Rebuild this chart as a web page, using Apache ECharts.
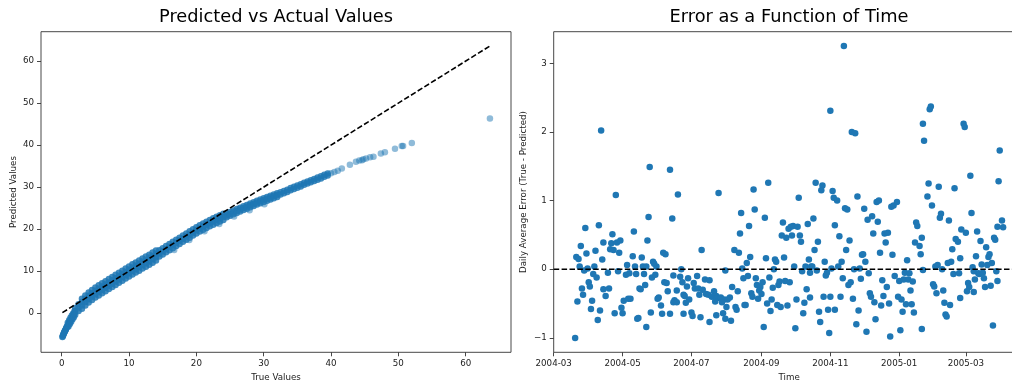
<!DOCTYPE html>
<html><head><meta charset="utf-8">
<script src="https://cdn.jsdelivr.net/npm/echarts@6/dist/echarts.min.js"></script>
<style>html,body{margin:0;padding:0;background:#fff}#c{width:1012px;height:380px}</style>
</head><body><div id="c"></div>
<script>
// ---------- data ----------
const leftTitle = 'Predicted vs Actual Values';
const rightTitle = 'Error as a Function of Time';
const leftXTicks = [0, 10, 20, 30, 40, 50, 60];
const leftYTicks = [0, 10, 20, 30, 40, 50, 60];
const rightYTicks = [-1, 0, 1, 2, 3];
const rightXTickLabels = ['2004-03', '2004-05', '2004-07', '2004-09', '2004-11', '2005-01', '2005-03'];
const startDate = '2004-03-01';

// [true value, predicted value] — the dense band of overlapping points
const predVsActualDense = [
[0.10,-5.7],[0.15,-5.5],[0.20,-5.3],[0.25,-5.1],[0.30,-4.9],[0.35,-4.7],[0.40,-4.5],[0.45,-4.35],[0.50,-4.2],[0.55,-4.05],[0.60,-3.9],[0.65,-3.7],[0.70,-3.5],[0.75,-3.35],[0.80,-3.2],[0.90,-2.9],[1.00,-2.6],[1.10,-2.3],[1.20,-2.0],[1.30,-1.7],[1.40,-1.5],[1.50,-1.2],[1.60,-0.9],[1.70,-0.6],[1.80,-0.3],[1.90,0.0],
[0.9,-2.3],[1.1,-1.7],[1.3,-1.1],[1.5,-0.6],[1.7,-0.1],[1.9,0.5],[1.0,-3.2],[1.2,-2.6],[1.4,-2.1],[1.6,-1.5],[1.8,-1.0],
[2.0,1.2],[2.0,0.4],[2.0,-0.4],[2.5,2.1],[2.5,1.3],[2.5,0.5],
[3.0,3.4],[3.0,2.6],[3.0,1.8],[3.0,1.0],[3.5,4.2],[3.5,3.4],[3.5,2.6],[3.5,1.8],[4.0,4.9],[4.0,4.1],[4.0,3.3],[4.0,2.5],
[4.5,5.5],[4.5,4.7],[4.5,3.9],[4.5,3.1],[5.0,6.1],[5.0,5.3],[5.0,4.5],[5.0,3.7],[5.5,6.6],[5.5,5.8],[5.5,5.0],[5.5,4.2],
[6.0,7.1],[6.0,6.3],[6.0,5.5],[6.0,4.7],[6.5,7.6],[6.5,6.8],[6.5,6.0],[6.5,5.2],[7.0,8.1],[7.0,7.3],[7.0,6.5],[7.0,5.7],
[7.5,8.6],[7.5,7.8],[7.5,7.0],[7.5,6.2],[8.0,9.1],[8.0,8.3],[8.0,7.5],[8.0,6.7],[8.5,9.6],[8.5,8.8],[8.5,8.0],[8.5,7.2],
[9.0,10.1],[9.0,9.3],[9.0,8.5],[9.0,7.7],[9.5,10.6],[9.5,9.8],[9.5,9.0],[9.5,8.2],[10.0,11.1],[10.0,10.3],[10.0,9.5],[10.0,8.7],
[10.5,11.6],[10.5,10.8],[10.5,10.0],[10.5,9.2],[11.0,12.05],[11.0,11.25],[11.0,10.45],[11.0,9.65],[11.5,12.5],[11.5,11.7],[11.5,10.9],[11.5,10.1],
[12.0,13.0],[12.0,12.2],[12.0,11.4],[12.0,10.6],[12.5,13.45],[12.5,12.65],[12.5,11.85],[12.5,11.05],[13.0,13.9],[13.0,13.1],[13.0,12.3],[13.0,11.5],
[13.5,14.4],[13.5,13.6],[13.5,12.8],[13.5,12.0],[14.0,14.9],[14.0,14.1],[14.0,13.3],[14.0,12.5],
[14.5,14.95],[14.5,14.2],[14.5,13.45],[15.0,15.45],[15.0,14.7],[15.0,13.95],[15.5,15.95],[15.5,15.2],[15.5,14.45],[16.0,16.45],[16.0,15.7],[16.0,14.95],
[16.5,16.95],[16.5,16.2],[16.5,15.45],[17.0,17.45],[17.0,16.7],[17.0,15.95],[17.5,17.95],[17.5,17.2],[17.5,16.45],[18.0,18.45],[18.0,17.7],[18.0,16.95],
[18.5,18.95],[18.5,18.2],[18.5,17.45],[19.0,19.45],[19.0,18.7],[19.0,17.95],[19.5,19.95],[19.5,19.2],[19.5,18.45],[20.0,20.45],[20.0,19.7],[20.0,18.95],
[20.5,20.9],[20.5,20.15],[20.5,19.4],[21.0,21.35],[21.0,20.6],[21.0,19.85],[21.5,21.75],[21.5,21.0],[21.5,20.25],[22.0,22.15],[22.0,21.4],[22.0,20.65],
[22.5,22.55],[22.5,21.8],[22.5,21.05],[23.0,22.95],[23.0,22.2],[23.0,21.45],[23.5,23.3],[23.5,22.55],[23.5,21.8],[24.0,23.65],[24.0,22.9],[24.0,22.15],
[24.5,23.7],[24.5,23.25],[24.5,22.8],[25.0,24.05],[25.0,23.6],[25.0,23.15],[25.5,24.4],[25.5,23.95],[25.5,23.5],[26.0,24.75],[26.0,24.3],[26.0,23.85],
[26.5,25.1],[26.5,24.65],[26.5,24.2],[27.0,25.45],[27.0,25.0],[27.0,24.55],[27.5,25.75],[27.5,25.3],[27.5,24.85],[28.0,26.1],[28.0,25.65],[28.0,25.2],
[28.5,26.4],[28.5,25.95],[28.5,25.5],[29.0,26.75],[29.0,26.3],[29.0,25.85],[29.5,27.05],[29.5,26.6],[29.5,26.15],[30.0,27.35],[30.0,26.9],[30.0,26.45],
[30.5,27.65],[30.5,27.2],[30.5,26.75],[31.0,27.95],[31.0,27.5],[31.0,27.05],[31.5,28.25],[31.5,27.8],[31.5,27.35],[32.0,28.55],[32.0,28.1],[32.0,27.65],
[32.5,28.75],[32.5,28.25],[33.0,29.05],[33.0,28.55],[33.5,29.35],[33.5,28.85],[34.0,29.75],[34.0,29.25],[34.5,30.05],[34.5,29.55],[35.0,30.35],[35.0,29.85],
[35.5,30.65],[35.5,30.15],[36.0,31.05],[36.0,30.55],[36.5,31.35],[36.5,30.85],[37.0,31.65],[37.0,31.15],[37.5,31.95],[37.5,31.45],[38.0,32.25],[38.0,31.75],
[38.5,32.55],[38.5,32.05],[39.0,32.95],[39.0,32.45],[39.5,33.25],[39.5,32.75]
];
// [true value, predicted value] — isolated points (upper tail and points just below the band)
const predVsActualSparse = [
[40.0,33.3],[40.5,33.6],[41.0,33.9],[41.6,34.4],[42.8,35.3],[43.7,36.0],[44.2,36.3],[44.6,36.4],[44.8,36.6],[45.2,36.8],[45.8,37.1],[46.3,37.2],
[47.4,38.0],[48.0,38.3],[49.5,39.1],[50.5,39.8],[50.7,39.8],[52.0,40.5],[63.6,46.3],
[16.7,15.0],[18.95,17.4],[21.2,19.5],[23.4,21.2],[25.6,23.0],[27.9,24.5],[30.1,25.9]
];

// [days since startDate, daily average error]
const dailyError = [
[42,2.02],[85,1.49],[55,1.08],[84,0.76],[28,0.60],[40,0.64],[52,0.51],[71,0.55],[44,0.39],[51,0.38],[56,0.39],[59,0.42],[24,0.34],[83,0.42],[37,0.27],[50,0.29],[53,0.28],[58,0.24],[29,0.23],[20,0.18],[22,0.15],[43,0.14],[70,0.19],[78,0.17],[88,0.11],[23,0.04],[27,-0.02],[30,0.01],[36,0.04],[65,0.06],[72,0.04],[79,0.04],[82,0.04],[48,-0.05],[57,-0.03],[64,-0.08],[67,-0.06],[73,-0.07],[80,-0.07],[35,-0.07],[38,-0.12],[87,-0.12],[31,-0.19],[32,-0.25],[25,-0.28],[44,-0.29],[49,-0.28],[46,-0.39],[26,-0.37],[76,-0.28],[77,-0.29],[81,-0.23],[21,-0.47],[34,-0.46],[62,-0.46],[66,-0.43],[68,-0.43],[33,-0.58],[41,-0.60],[60,-0.56],[54,-0.64],[61,-0.64],[86,-0.63],[39,-0.74],[74,-0.72],[75,-0.71],[82,-0.84],[19,-1.00],
[103,1.45],[110,1.09],[146,1.11],[105,0.74],[166,0.82],[165,0.52],[97,0.24],[99,0.22],[131,0.28],[160,0.28],[164,0.24],[91,0.04],[89,0.08],[113,0.00],[152,-0.02],[167,0.01],[90,-0.08],[106,-0.09],[112,-0.11],[119,-0.13],[127,-0.10],[134,-0.15],[138,-0.16],[98,-0.19],[100,-0.20],[114,-0.19],[124,-0.20],[168,-0.13],[118,-0.25],[125,-0.28],[128,-0.28],[132,-0.30],[158,-0.26],[109,-0.31],[101,-0.32],[135,-0.36],[142,-0.32],[115,-0.37],[116,-0.39],[129,-0.37],[137,-0.37],[140,-0.40],[144,-0.39],[145,-0.42],[148,-0.41],[151,-0.44],[154,-0.44],[156,-0.41],[163,-0.32],[93,-0.41],[92,-0.43],[120,-0.44],[107,-0.45],[106,-0.48],[109,-0.48],[117,-0.49],[143,-0.47],[149,-0.48],[95,-0.53],[153,-0.55],[161,-0.55],[162,-0.59],[169,-0.52],[96,-0.65],[103,-0.65],[115,-0.65],[122,-0.63],[123,-0.68],[130,-0.70],[144,-0.67],[150,-0.64],[152,-0.72],[157,-0.75],[138,-0.77],
[190,1.26],[177,1.16],[232,1.26],[238,1.22],[237,1.15],[247,1.14],[248,1.04],[217,1.04],[178,0.87],[187,0.75],[173,0.63],[203,0.68],[208,0.59],[210,0.62],[212,0.63],[216,0.62],[225,0.66],[230,0.74],[249,0.64],[202,0.49],[206,0.46],[211,0.49],[218,0.49],[219,0.40],[234,0.40],[231,0.28],[174,0.18],[188,0.16],[204,0.17],[196,0.14],[197,0.11],[226,0.14],[240,0.11],[171,0.09],[195,0.00],[213,0.04],[223,0.04],[228,0.04],[229,0.04],[220,-0.03],[227,-0.05],[233,-0.02],[242,-0.05],[241,-0.09],[246,0.01],[172,-0.10],[179,-0.13],[191,-0.12],[185,-0.19],[180,-0.23],[183,-0.26],[182,-0.31],[184,-0.36],[200,-0.18],[199,-0.23],[205,-0.17],[209,-0.19],[194,-0.27],[224,-0.29],[175,-0.35],[176,-0.40],[181,-0.43],[193,-0.44],[189,-0.50],[170,-0.52],[198,-0.52],[201,-0.55],[207,-0.53],[215,-0.44],[222,-0.49],[227,-0.41],[239,-0.40],[245,-0.40],[192,-0.61],[221,-0.64],[235,-0.62],[243,-0.59],[236,-0.77],[186,-0.84],[214,-0.86],[244,-0.93],
[245,2.31],[257,3.25],[264,2.00],[267,1.98],[327,2.12],[328,1.87],[251,1.00],[269,1.06],[258,0.89],[260,0.87],[275,0.88],[286,0.98],[288,1.00],[299,0.91],[301,0.93],[304,0.98],[278,0.72],[282,0.77],[287,0.69],[253,0.48],[262,0.42],[283,0.52],[293,0.52],[296,0.53],[294,0.39],[321,0.68],[322,0.63],[320,0.39],[324,0.34],[326,0.46],[259,0.28],[273,0.21],[274,0.22],[289,0.24],[300,0.21],[325,0.22],[255,0.11],[276,0.11],[313,0.13],[252,0.04],[266,0.00],[271,0.01],[279,-0.06],[311,-0.05],[315,-0.06],[327,-0.01],[256,-0.13],[272,-0.14],[302,-0.10],[291,-0.16],[306,-0.17],[310,-0.15],[314,-0.15],[318,-0.18],[263,-0.19],[261,-0.23],[295,-0.26],[316,-0.31],[280,-0.35],[281,-0.40],[292,-0.39],[254,-0.40],[265,-0.43],[305,-0.40],[308,-0.44],[312,-0.51],[317,-0.51],[284,-0.48],[290,-0.53],[297,-0.50],[249,-0.59],[270,-0.60],[309,-0.62],[319,-0.63],[285,-0.73],[268,-0.80],[277,-0.91],[298,-0.98],[307,-0.89],[326,-0.87],
[333,2.33],[334,2.37],[363,2.12],[364,2.07],[395,1.73],[369,1.36],[394,1.28],[332,1.25],[341,1.20],[355,1.18],[331,1.06],[335,0.93],[370,0.82],[343,0.81],[342,0.75],[350,0.71],[397,0.71],[393,0.62],[398,0.61],[361,0.58],[365,0.53],[375,0.55],[356,0.44],[358,0.40],[378,0.41],[390,0.46],[391,0.43],[383,0.32],[353,0.29],[360,0.16],[374,0.19],[385,0.18],[386,0.22],[338,0.04],[340,0.06],[349,0.09],[352,0.11],[379,0.07],[384,0.06],[388,0.09],[344,0.00],[371,0.03],[354,-0.07],[359,-0.06],[372,-0.03],[376,-0.06],[377,-0.07],[380,-0.05],[392,-0.03],[381,-0.13],[373,-0.15],[393,-0.17],[367,-0.20],[336,-0.22],[337,-0.25],[368,-0.26],[382,-0.26],[387,-0.24],[366,-0.32],[345,-0.31],[372,-0.33],[339,-0.35],[360,-0.42],[346,-0.49],[351,-0.52],[347,-0.66],[348,-0.69],[389,-0.82]
];

// ---------- helpers ----------
const DAY = 86400000;
function ymdToUTC(s) { const p = s.split('-').map(Number); return Date.UTC(p[0], p[1] - 1, p[2] || 1); }
const t0 = ymdToUTC(startDate);
const errorData = dailyError.map(d => [t0 + d[0] * DAY, d[1]]);
const xTickVals = rightXTickLabels.map(s => ymdToUTC(s));
const firstDay = Math.min(...dailyError.map(d => d[0]));
const lastDay = Math.max(...dailyError.map(d => d[0]));
const pad = (lastDay - firstDay) * 0.05;
const rxMin = Math.min(t0, t0 + (firstDay - pad) * DAY), rxMax = t0 + (lastDay + pad) * DAY;

const allLeft = predVsActualDense.concat(predVsActualSparse);
const tv = allLeft.map(d => d[0]);
const minT = Math.min(...tv), maxT = Math.max(...tv);
const minus = v => (v < 0 ? '\u2212' + Math.abs(v) : String(v));

const FONT = 'DejaVu Sans';
const tickLabel = { fontFamily: FONT, fontSize: 8.7, color: '#222', margin: 7 };
const tickStyle = { show: true, inside: false, length: 4, lineStyle: { color: '#333', width: 0.9 } };
const nameStyle = { fontFamily: FONT, fontSize: 8.7, color: '#222' };
const noLine = { show: false, onZero: false };
const titleStyle = { fontFamily: FONT, fontSize: 17.8, fontWeight: 'normal', color: '#000' };

const chart = echarts.init(document.getElementById('c'), null, { renderer: 'canvas' });
chart.setOption({
  animation: false,
  backgroundColor: '#fff',
  title: [
    { text: leftTitle, left: 276, top: 8, textAlign: 'center', padding: 0, textStyle: titleStyle },
    { text: rightTitle, left: 789, top: 8, textAlign: 'center', padding: 0, textStyle: titleStyle }
  ],
  grid: [
    { left: 41, right: 501, top: 31.7, bottom: 27.7, show: true, borderColor: '#333', borderWidth: 0.9,
      backgroundColor: 'transparent', containLabel: false, outerBoundsMode: 'none' },
    { left: 553.7, right: -12.5, top: 31.7, bottom: 27.7, show: true, borderColor: '#333', borderWidth: 0.9,
      backgroundColor: 'transparent', containLabel: false, outerBoundsMode: 'none' }
  ],
  xAxis: [
    { gridIndex: 0, type: 'value', min: -3.08, max: 66.73,
      name: 'True Values', nameLocation: 'middle', nameGap: 19, nameTextStyle: nameStyle,
      axisLine: noLine, splitLine: { show: false },
      axisTick: Object.assign({ customValues: leftXTicks }, tickStyle),
      axisLabel: Object.assign({ customValues: leftXTicks }, tickLabel) },
    { gridIndex: 1, type: 'value', min: rxMin, max: rxMax,
      name: 'Time', nameLocation: 'middle', nameGap: 19, nameTextStyle: nameStyle,
      axisLine: noLine, splitLine: { show: false },
      axisTick: Object.assign({ customValues: xTickVals }, tickStyle),
      axisLabel: Object.assign({ customValues: xTickVals,
        formatter: v => { const i = xTickVals.indexOf(v); return i >= 0 ? rightXTickLabels[i] : ''; } }, tickLabel) }
  ],
  yAxis: [
    { gridIndex: 0, type: 'value', min: -9.35, max: 67.0,
      name: 'Predicted Values', nameLocation: 'middle', nameGap: 23, nameRotate: 90, nameTextStyle: nameStyle,
      axisLine: noLine, splitLine: { show: false },
      axisTick: Object.assign({ customValues: leftYTicks }, tickStyle),
      axisLabel: Object.assign({ customValues: leftYTicks }, tickLabel) },
    { gridIndex: 1, type: 'value', min: -1.21, max: 3.46,
      name: 'Daily Average Error (True - Predicted)', nameLocation: 'middle', nameGap: 25, nameRotate: 90, nameTextStyle: nameStyle,
      axisLine: noLine, splitLine: { show: false },
      axisTick: Object.assign({ customValues: rightYTicks }, tickStyle),
      axisLabel: Object.assign({ customValues: rightYTicks, formatter: minus }, tickLabel) }
  ],
  series: [
    { type: 'scatter', xAxisIndex: 0, yAxisIndex: 0, data: predVsActualDense, symbolSize: 6.5,
      itemStyle: { color: '#1f77b4', opacity: 0.85 }, silent: true, z: 2 },
    { type: 'scatter', xAxisIndex: 0, yAxisIndex: 0, data: predVsActualSparse, symbolSize: 6.5,
      itemStyle: { color: '#1f77b4', opacity: 0.5 }, silent: true, z: 2 },
    { type: 'line', xAxisIndex: 0, yAxisIndex: 0, data: [[minT, minT], [maxT, maxT]], symbol: 'none',
      lineStyle: { color: '#000', width: 1.6, type: [5.5, 2.4] }, silent: true, z: 5 },
    { type: 'scatter', xAxisIndex: 1, yAxisIndex: 1, data: errorData, symbolSize: 6.5,
      itemStyle: { color: '#1f77b4', opacity: 1 }, silent: true, z: 2 },
    { type: 'line', xAxisIndex: 1, yAxisIndex: 1, data: [[rxMin, 0], [rxMax, 0]], symbol: 'none',
      lineStyle: { color: '#000', width: 1.6, type: [5.5, 2.4] }, silent: true, z: 5 }
  ]
});
</script></body></html>
